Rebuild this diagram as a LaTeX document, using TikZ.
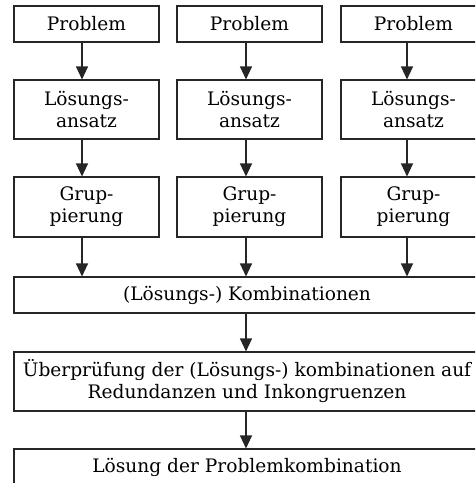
\documentclass[tikz,border=0pt]{standalone}
\usepackage{fontspec}
\setmainfont{DejaVu Serif}
\usetikzlibrary{arrows.meta}
\begin{document}
\begin{tikzpicture}[x=1pt,y=-1pt,
  box/.style={draw=black!85, line width=1.1pt, rectangle, inner sep=0pt,
    align=center, font=\fontsize{18.6}{22}\selectfont, text=black},
  colbox/.style={box, minimum width=145pt},
  widebox/.style={box, minimum width=466pt},
  arr/.style={draw=black!85, line width=1.1pt,
    -{Triangle[width=12pt,length=13pt]}}
]
\clip (0,0) rectangle (475,483);

% three parallel columns
\node[colbox, minimum height=36pt] (p1) at (86.5,24) {Problem};
\node[colbox, minimum height=36pt] (p2) at (249.5,24) {Problem};
\node[colbox, minimum height=36pt] (p3) at (413.5,24) {Problem};

\node[colbox, minimum height=59pt] (l1) at (86.5,109.5) {Lösungs-\\ansatz};
\node[colbox, minimum height=59pt] (l2) at (249.5,109.5) {Lösungs-\\ansatz};
\node[colbox, minimum height=59pt] (l3) at (413.5,109.5) {Lösungs-\\ansatz};

\node[colbox, minimum height=60pt] (g1) at (86.5,207) {Grup-\\pierung};
\node[colbox, minimum height=60pt] (g2) at (249.5,207) {Grup-\\pierung};
\node[colbox, minimum height=60pt] (g3) at (413.5,207) {Grup-\\pierung};

% merged steps
\node[widebox, minimum height=36pt] (k) at (247,295) {(Lösungs-) Kombinationen};
\node[widebox, minimum height=59pt] (u) at (247,381.5)
  {Überprüfung der (Lösungs-) kombinationen auf\\Redundanzen und Inkongruenzen};
\node[widebox, minimum height=36pt] (s) at (247,467) {Lösung der Problemkombination};

% arrow positions
\coordinate (a1) at (82,0);
\coordinate (a2) at (246,0);
\coordinate (a3) at (407,0);
\coordinate (a4) at (246,0);

\draw[arr] (p1.south -| a1) -- (l1.north -| a1);
\draw[arr] (p2.south -| a2) -- (l2.north -| a2);
\draw[arr] (p3.south -| a3) -- (l3.north -| a3);

\draw[arr] (l1.south -| a1) -- (g1.north -| a1);
\draw[arr] (l2.south -| a2) -- (g2.north -| a2);
\draw[arr] (l3.south -| a3) -- (g3.north -| a3);

\draw[arr] (g1.south -| a1) -- (k.north -| a1);
\draw[arr] (g2.south -| a2) -- (k.north -| a2);
\draw[arr] (g3.south -| a3) -- (k.north -| a3);

\draw[arr] (k.south -| a4) -- (u.north -| a4);
\draw[arr] (u.south -| a4) -- (s.north -| a4);
\end{tikzpicture}
\end{document}
